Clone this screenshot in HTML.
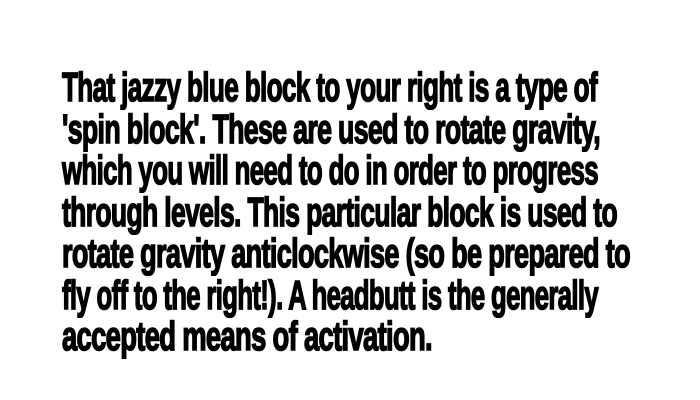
<!DOCTYPE html>
<html><head><meta charset="utf-8"><style>
html,body{margin:0;padding:0;background:#fff;width:700px;height:400px;overflow:hidden}
.l{position:absolute;left:62px;white-space:nowrap;font-family:"Liberation Sans Narrow","Liberation Sans",sans-serif;font-weight:bold;font-size:41px;line-height:41px;color:#000;transform-origin:0 0;letter-spacing:-1px;-webkit-text-stroke:1.6px #000}
</style></head><body>
<div>
<div class="l" data-w="535" style="top:67px">That jazzy blue block to your right is a type of</div>
<div class="l" data-w="538" style="top:108.5px">'spin block'. These are used to rotate gravity,</div>
<div class="l" data-w="536" style="top:150px">which you will need to do in order to progress</div>
<div class="l" data-w="555" style="top:191.5px">through levels. This particular block is used to</div>
<div class="l" data-w="568" style="top:233px">rotate gravity anticlockwise (so be prepared to</div>
<div class="l" data-w="536" style="top:274.5px">fly off to the right!). A headbutt is the generally</div>
<div class="l" data-w="370" style="top:316px">accepted means of activation.</div>
</div>
<script>
document.querySelectorAll('.l').forEach(function(e){
  var w=e.getBoundingClientRect().width;
  var t=+e.getAttribute('data-w');
  e.style.transform='scaleX('+(t/w)+')';
});
</script>
</body></html>
